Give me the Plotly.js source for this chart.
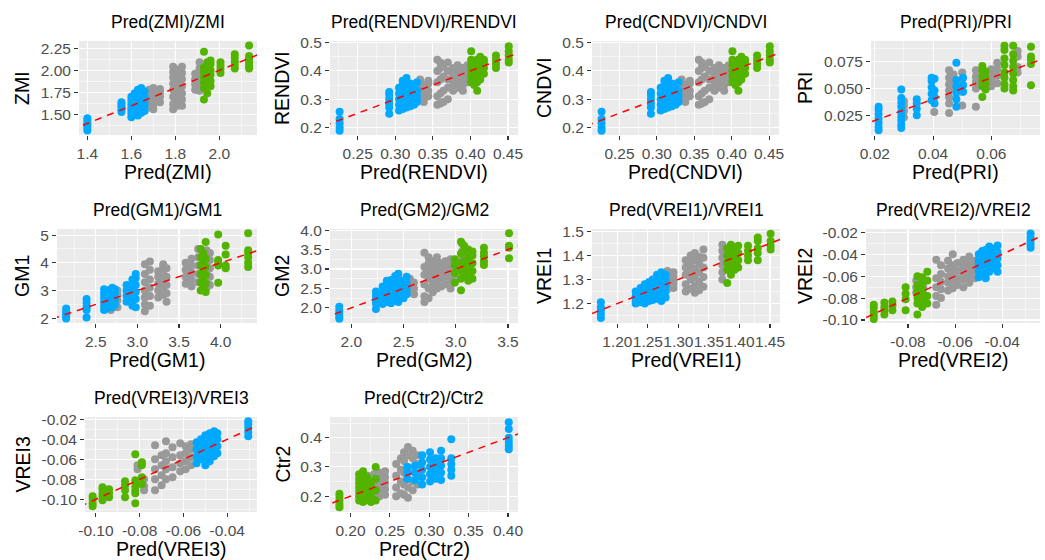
<!DOCTYPE html>
<html>
<head>
<meta charset="utf-8">
<script src="https://cdn.plot.ly/plotly-3.0.1.min.js"></script>
<style>html,body{margin:0;padding:0;background:#fff;}#chart{width:1045px;height:560px;}</style>
</head>
<body>
<div id="chart"></div>
<script>
// ---------- DATA: clusters as [predicted x, [observed y values]] ----------
const zmiBlue = [[1.400,[1.32,1.35,1.38,1.40,1.43,1.46]],[1.555,[1.53,1.56,1.59,1.62,1.64]],[1.600,[1.47,1.51,1.55,1.58,1.62,1.66,1.70]],[1.615,[1.50,1.56,1.63,1.69,1.74]],[1.630,[1.49,1.53,1.58,1.64,1.68,1.73,1.78]],[1.645,[1.52,1.57,1.61,1.66,1.72,1.77,1.80]],[1.660,[1.54,1.60,1.65,1.70,1.76]]];
const zmiGrey = [[1.680,[1.58,1.63,1.68,1.74,1.78]],[1.700,[1.56,1.61,1.66,1.71,1.76,1.80]],[1.730,[1.64,1.70,1.75,1.79]],[1.790,[1.56,1.62,1.70,1.78,1.85,1.92,1.98,2.04]],[1.810,[1.60,1.68,1.75,1.83,1.88,1.95,2.01]],[1.830,[1.60,1.67,1.74,1.82,1.90,1.97,2.04]],[1.890,[1.78,1.84,1.90,1.96]],[1.910,[1.77,1.82,1.88,1.95,2.02,2.09]]];
const zmiGreen = [[1.930,[1.67,1.80,1.86,1.92,1.98,2.03,2.21]],[1.945,[1.74,1.84,1.90,1.96,2.03,2.09]],[1.960,[1.82,1.88,1.95,2.00,2.07,2.11]],[2.005,[1.97,2.01,2.05,2.09]],[2.070,[2.02,2.06,2.10,2.14,2.18]],[2.135,[2.02,2.05,2.09,2.13,2.16,2.28]]];

const rendviBlue = [[0.226,[0.188,0.200,0.215,0.230,0.255]],[0.292,[0.248,0.270,0.285,0.300,0.315,0.325]],[0.305,[0.260,0.280,0.300,0.320,0.340]],[0.310,[0.265,0.290,0.310,0.330,0.350,0.365]],[0.315,[0.270,0.285,0.300,0.320,0.340,0.360,0.375]],[0.320,[0.275,0.295,0.315,0.335,0.355]],[0.325,[0.280,0.300,0.320,0.340]],[0.329,[0.290,0.310,0.330,0.360]]];
const rendviGrey = [[0.333,[0.300,0.320,0.340,0.360,0.370]],[0.338,[0.290,0.310,0.330,0.350]],[0.344,[0.310,0.330,0.355,0.365]],[0.356,[0.280,0.310,0.360,0.400,0.440]],[0.360,[0.285,0.320,0.370,0.410,0.430]],[0.364,[0.290,0.330,0.380,0.420]],[0.370,[0.300,0.340,0.370,0.400,0.430]],[0.377,[0.330,0.350,0.370,0.390,0.410]],[0.383,[0.340,0.360,0.380,0.400,0.420]],[0.390,[0.330,0.350,0.370,0.390,0.410]],[0.396,[0.360,0.380,0.400,0.420]]];
const rendviGreen = [[0.401,[0.360,0.380,0.400,0.420,0.440,0.470]],[0.405,[0.350,0.370,0.390,0.410,0.430]],[0.409,[0.330,0.360,0.380,0.400,0.420,0.440]],[0.413,[0.370,0.390,0.410,0.430,0.450]],[0.418,[0.390,0.410,0.430,0.440]],[0.434,[0.410,0.425,0.440,0.455]],[0.451,[0.430,0.440,0.455,0.470,0.487]]];

const cndviBlue = [[0.226,[0.188,0.200,0.215,0.230,0.255]],[0.292,[0.248,0.270,0.285,0.300,0.315,0.325]],[0.305,[0.260,0.280,0.300,0.320,0.340]],[0.310,[0.265,0.290,0.310,0.330,0.350,0.365]],[0.315,[0.270,0.285,0.300,0.320,0.340,0.360,0.375]],[0.320,[0.275,0.295,0.315,0.335,0.355]],[0.325,[0.280,0.300,0.320,0.340]],[0.329,[0.290,0.310,0.330,0.360]]];
const cndviGrey = [[0.333,[0.300,0.320,0.340,0.360,0.370]],[0.338,[0.290,0.310,0.330,0.350]],[0.344,[0.310,0.330,0.355,0.365]],[0.356,[0.280,0.310,0.360,0.400,0.440]],[0.360,[0.285,0.320,0.370,0.410,0.430]],[0.364,[0.290,0.330,0.380,0.420]],[0.370,[0.300,0.340,0.370,0.400,0.430]],[0.377,[0.330,0.350,0.370,0.390,0.410]],[0.383,[0.340,0.360,0.380,0.400,0.420]],[0.390,[0.330,0.350,0.370,0.390,0.410]],[0.396,[0.360,0.380,0.400,0.420]]];
const cndviGreen = [[0.401,[0.360,0.380,0.400,0.420,0.440,0.470]],[0.405,[0.350,0.370,0.390,0.410,0.430]],[0.409,[0.330,0.360,0.380,0.400,0.420,0.440]],[0.413,[0.370,0.390,0.410,0.430,0.450]],[0.418,[0.390,0.410,0.430,0.440]],[0.434,[0.410,0.425,0.440,0.455]],[0.451,[0.430,0.440,0.455,0.470,0.487]]];

const priBlue = [[0.0213,[0.011,0.014,0.018,0.022,0.026,0.030,0.033]],[0.0291,[0.013,0.016,0.020,0.024,0.028,0.033,0.037,0.041,0.049]],[0.0344,[0.025,0.031,0.036,0.040]],[0.0395,[0.039,0.045,0.051,0.057,0.060]],[0.0405,[0.036,0.042,0.048,0.059]],[0.0480,[0.033,0.040,0.046,0.052,0.058,0.074]],[0.0503,[0.047,0.053,0.060]]];
const priGrey = [[0.0300,[0.023,0.029,0.034,0.038]],[0.0404,[0.028]],[0.0455,[0.027,0.036,0.042,0.048,0.054,0.060,0.067]],[0.0470,[0.050,0.055,0.063]],[0.0500,[0.034,0.047,0.055,0.065]],[0.0547,[0.033,0.050,0.056,0.061,0.067]],[0.0600,[0.052,0.058,0.063,0.068]],[0.0620,[0.055,0.062,0.068,0.074]],[0.0690,[0.065,0.070,0.080,0.085]]];
const priGreen = [[0.0569,[0.042,0.052,0.057,0.062,0.067,0.071]],[0.0580,[0.049,0.055,0.060,0.066]],[0.0645,[0.050,0.054,0.060,0.065,0.072,0.078,0.086,0.090]],[0.0675,[0.048,0.052,0.058,0.064,0.070,0.076,0.082,0.090]],[0.0736,[0.053,0.073,0.077,0.080,0.089]]];

const gm1Blue = [[2.145,[1.99,2.07,2.15,2.25,2.35]],[2.390,[2.03,2.30,2.40,2.55,2.70]],[2.600,[2.30,2.45,2.60,2.75,2.90,3.05]],[2.640,[2.35,2.55,2.70,2.85,3.00]],[2.700,[2.40,2.60,2.80,2.95,3.10]],[2.730,[2.50,2.70,2.90,3.05]],[2.870,[2.60,2.80,3.00,3.20]],[2.940,[2.45,2.65,2.85,3.05,3.25,3.40]],[2.980,[2.40,2.70,2.95,3.20,3.45,3.60]]];
const gm1Grey = [[2.680,[2.30,2.50,2.70,2.90,3.05]],[2.760,[2.40,2.65,2.85,3.00]],[3.090,[2.25,2.50,2.75,3.00,3.30,3.60,3.95]],[3.150,[2.45,2.80,3.10,3.40,3.75,4.05]],[3.250,[2.75,3.00,3.25,3.50,3.70]],[3.310,[2.85,3.10,3.35,3.60,3.85,3.95]],[3.350,[2.60,2.90,3.20,3.50,3.80]],[3.580,[3.25,3.50,3.75,4.00]],[3.650,[3.15,3.40,3.65,3.90,4.15]],[3.730,[3.30,3.60,3.90,4.20,4.50]],[3.830,[3.10,3.40,3.70,4.00,4.30,4.45]],[3.870,[3.20,3.50,3.80,4.10,4.35]]];
const gm1Green = [[3.760,[3.00,3.30,3.60,3.90,4.20,4.50]],[3.790,[3.20,3.45,3.75,4.05,4.35]],[3.820,[2.95,3.25,3.55,3.85,4.15,4.75]],[3.970,[3.28,3.90,4.00,4.10,5.02]],[4.060,[3.80,3.90,4.30,4.62]],[4.330,[3.85,4.00,4.20,4.35,4.45,5.07]]];

const gm2Blue = [[1.885,[1.72,1.78,1.86,1.94,2.03]],[2.236,[1.97,2.12,2.22,2.32,2.42]],[2.300,[2.10,2.25,2.40,2.55]],[2.340,[2.15,2.30,2.45,2.60,2.70]],[2.380,[2.12,2.28,2.42,2.56,2.72]],[2.420,[2.20,2.35,2.50,2.65,2.82]],[2.450,[2.15,2.30,2.45,2.60,2.75,2.88]],[2.500,[2.25,2.40,2.55,2.70]],[2.530,[2.35,2.50,2.65,2.80]]];
const gm2Grey = [[2.490,[2.30,2.45,2.60]],[2.560,[2.40,2.55,2.70,2.75]],[2.600,[2.35,2.50,2.65]],[2.700,[2.15,2.30,2.60,2.85,3.05,3.42]],[2.740,[2.25,2.50,2.75,2.95,3.15,3.30]],[2.780,[2.40,2.60,2.80,3.00,3.20]],[2.820,[2.50,2.70,2.90,3.10,3.30]],[2.860,[2.55,2.75,2.95,3.15]],[2.900,[2.60,2.80,3.00,3.20]],[2.950,[2.50,2.70,2.90,3.10,3.25]],[2.990,[2.65,2.85,3.05]],[3.060,[3.25,3.45,3.65]]];
const gm2Green = [[2.990,[2.65,2.90,3.10,3.25]],[3.050,[2.45,2.75,2.95,3.15,3.40,3.70]],[3.080,[2.80,3.00,3.20,3.45,3.60]],[3.120,[2.70,2.90,3.10,3.30,3.50]],[3.160,[2.75,2.95,3.15,3.35,3.45]],[3.270,[3.10,3.20,3.32,3.42,3.55]],[3.510,[3.28,3.55,3.60,3.92]]];

const vrei1Blue = [[1.173,[1.140,1.155,1.170,1.185,1.205]],[1.230,[1.200,1.215,1.230,1.250]],[1.238,[1.205,1.225,1.245,1.265]],[1.245,[1.200,1.220,1.240,1.260,1.280]],[1.252,[1.210,1.230,1.250,1.270,1.290]],[1.258,[1.215,1.240,1.260,1.280,1.300]],[1.265,[1.220,1.245,1.270,1.290,1.320]],[1.272,[1.210,1.235,1.260,1.285,1.310,1.330]],[1.279,[1.225,1.250,1.275,1.300,1.320]]];
const vrei1Grey = [[1.282,[1.260,1.280,1.300,1.320,1.335]],[1.292,[1.265,1.285,1.310,1.330]],[1.312,[1.250,1.280,1.320,1.350,1.380]],[1.320,[1.260,1.300,1.340,1.370,1.400]],[1.327,[1.245,1.275,1.310,1.345,1.380,1.410]],[1.334,[1.255,1.290,1.330,1.365,1.395]],[1.341,[1.270,1.310,1.350,1.390,1.425]],[1.372,[1.300,1.330,1.360,1.390,1.420,1.445]]];
const vrei1Green = [[1.380,[1.285,1.340,1.370,1.400,1.430]],[1.386,[1.320,1.360,1.390,1.420,1.445]],[1.392,[1.340,1.370,1.400,1.430]],[1.398,[1.350,1.380,1.410,1.440]],[1.414,[1.380,1.400,1.420,1.440]],[1.430,[1.380,1.410,1.430,1.460,1.475]],[1.451,[1.425,1.440,1.460,1.490]]];

const vrei2Green = [[-0.0945,[-0.099,-0.096,-0.093,-0.089,-0.086]],[-0.0900,[-0.095,-0.091,-0.088,-0.084]],[-0.0866,[-0.091,-0.087,-0.083]],[-0.0810,[-0.091,-0.081,-0.076,-0.070]],[-0.0760,[-0.095,-0.085,-0.080,-0.074,-0.068,-0.060]],[-0.0740,[-0.088,-0.083,-0.078,-0.072,-0.066,-0.061]],[-0.0718,[-0.085,-0.078,-0.064,-0.056]]];
const vrei2Grey = [[-0.0765,[-0.075,-0.070,-0.064]],[-0.0735,[-0.082,-0.076,-0.070,-0.065]],[-0.0680,[-0.086,-0.078,-0.070,-0.062,-0.045]],[-0.0660,[-0.080,-0.072,-0.065,-0.058,-0.050]],[-0.0630,[-0.073,-0.066,-0.060,-0.053,-0.046]],[-0.0610,[-0.071,-0.064,-0.057,-0.050,-0.040]],[-0.0590,[-0.068,-0.062,-0.055,-0.048]],[-0.0565,[-0.070,-0.063,-0.057,-0.051,-0.045]],[-0.0540,[-0.066,-0.060,-0.054,-0.048,-0.042]],[-0.0515,[-0.062,-0.057,-0.051,-0.046]]];
const vrei2Blue = [[-0.0500,[-0.061,-0.055,-0.050,-0.045,-0.040]],[-0.0485,[-0.058,-0.052,-0.047,-0.042,-0.037]],[-0.0470,[-0.062,-0.054,-0.048,-0.043,-0.036]],[-0.0455,[-0.056,-0.050,-0.044,-0.038,-0.033]],[-0.0440,[-0.053,-0.047,-0.041,-0.035]],[-0.0420,[-0.056,-0.050,-0.044,-0.038,-0.032]],[-0.0280,[-0.034,-0.031,-0.028,-0.025,-0.021]]];

const vrei3Green = [[-0.1015,[-0.107,-0.104,-0.100,-0.097]],[-0.0970,[-0.101,-0.097,-0.094,-0.090,-0.088]],[-0.0940,[-0.098,-0.094,-0.090]],[-0.0867,[-0.098,-0.091,-0.086,-0.082]],[-0.0820,[-0.104,-0.094,-0.091,-0.087,-0.081,-0.055]],[-0.0790,[-0.085,-0.078,-0.066,-0.063]]];
const vrei3Grey = [[-0.0810,[-0.070,-0.066]],[-0.0780,[-0.091,-0.087,-0.080]],[-0.0730,[-0.091,-0.080,-0.070,-0.060,-0.046]],[-0.0700,[-0.086,-0.076,-0.066,-0.056]],[-0.0680,[-0.080,-0.070,-0.062,-0.054,-0.042]],[-0.0650,[-0.078,-0.068,-0.058,-0.048]],[-0.0615,[-0.072,-0.064,-0.056,-0.044]],[-0.0590,[-0.070,-0.062,-0.054,-0.047]],[-0.0565,[-0.066,-0.058,-0.050,-0.045]]];
const vrei3Blue = [[-0.0540,[-0.064,-0.057,-0.050,-0.043]],[-0.0520,[-0.060,-0.053,-0.047,-0.040]],[-0.0500,[-0.066,-0.058,-0.051,-0.044,-0.036]],[-0.0480,[-0.062,-0.055,-0.048,-0.041,-0.034]],[-0.0460,[-0.057,-0.050,-0.043,-0.036,-0.032]],[-0.0445,[-0.054,-0.047,-0.040,-0.034]],[-0.0304,[-0.037,-0.033,-0.029,-0.025,-0.022]]];

const ctr2Green = [[0.186,[0.162,0.172,0.185,0.198,0.208]],[0.211,[0.185,0.200,0.215,0.230,0.245,0.260,0.275]],[0.216,[0.180,0.195,0.210,0.225,0.240,0.255,0.285]],[0.221,[0.188,0.205,0.220,0.235,0.250,0.265]],[0.226,[0.180,0.200,0.215,0.230,0.245]],[0.232,[0.185,0.220,0.260,0.300]]];
const ctr2Grey = [[0.215,[0.210,0.225,0.245,0.265]],[0.222,[0.205,0.230,0.250,0.270]],[0.230,[0.210,0.235,0.255,0.275]],[0.237,[0.200,0.220,0.240,0.260,0.280]],[0.244,[0.205,0.225,0.245,0.265,0.285]],[0.258,[0.200,0.230,0.270,0.310]],[0.264,[0.210,0.250,0.290,0.330]],[0.268,[0.205,0.240,0.280,0.320,0.350]],[0.273,[0.195,0.230,0.260,0.300,0.340,0.368]],[0.279,[0.220,0.250,0.290,0.330,0.355]],[0.285,[0.240,0.270,0.310,0.340]]];
const ctr2Blue = [[0.272,[0.260,0.280,0.300]],[0.282,[0.255,0.280,0.305]],[0.291,[0.240,0.265,0.290,0.315,0.340]],[0.301,[0.250,0.275,0.300,0.325,0.350]],[0.308,[0.260,0.285,0.310,0.330]],[0.315,[0.255,0.280,0.305,0.330,0.355]],[0.328,[0.270,0.290,0.310,0.330,0.395]],[0.401,[0.360,0.372,0.385,0.400,0.430,0.453]]];

// ---------- Tick values and labels ----------
const zmiXTicks = [1.4,1.6,1.8,2.0], zmiXLabels = ['1.4','1.6','1.8','2.0'];
const zmiYTicks = [1.5,1.75,2.0,2.25], zmiYLabels = ['1.50','1.75','2.00','2.25'];
const ndviXTicks = [0.25,0.30,0.35,0.40,0.45], ndviXLabels = ['0.25','0.30','0.35','0.40','0.45'];
const ndviYTicks = [0.2,0.3,0.4,0.5], ndviYLabels = ['0.2','0.3','0.4','0.5'];
const priXTicks = [0.02,0.04,0.06], priXLabels = ['0.02','0.04','0.06'];
const priYTicks = [0.025,0.05,0.075], priYLabels = ['0.025','0.050','0.075'];
const gm1XTicks = [2.5,3.0,3.5,4.0], gm1XLabels = ['2.5','3.0','3.5','4.0'];
const gm1YTicks = [2,3,4,5], gm1YLabels = ['2','3','4','5'];
const gm2XTicks = [2.0,2.5,3.0,3.5], gm2XLabels = ['2.0','2.5','3.0','3.5'];
const gm2YTicks = [2.0,2.5,3.0,3.5,4.0], gm2YLabels = ['2.0','2.5','3.0','3.5','4.0'];
const vrei1XTicks = [1.20,1.25,1.30,1.35,1.40,1.45], vrei1XLabels = ['1.20','1.25','1.30','1.35','1.40','1.45'];
const vrei1YTicks = [1.2,1.3,1.4,1.5], vrei1YLabels = ['1.2','1.3','1.4','1.5'];
const vrei2XTicks = [-0.08,-0.06,-0.04], vrei2XLabels = ['-0.08','-0.06','-0.04'];
const vreiYTicks = [-0.10,-0.08,-0.06,-0.04,-0.02], vreiYLabels = ['-0.10','-0.08','-0.06','-0.04','-0.02'];
const vrei3XTicks = [-0.10,-0.08,-0.06,-0.04], vrei3XLabels = ['-0.10','-0.08','-0.06','-0.04'];
const ctr2XTicks = [0.20,0.25,0.30,0.35,0.40], ctr2XLabels = ['0.20','0.25','0.30','0.35','0.40'];
const ctr2YTicks = [0.2,0.3,0.4], ctr2YLabels = ['0.2','0.3','0.4'];

const names = ['ZMI','RENDVI','CNDVI','PRI','GM1','GM2','VREI1','VREI2','VREI3','Ctr2'];

// ---------- Layout configuration (pixel boxes: left, right, top, bottom) ----------
const W = 1045, H = 560;
const panels = [
  {g:[zmiGrey,zmiBlue,zmiGreen], xt:zmiXTicks, xl:zmiXLabels, yt:zmiYTicks, yl:zmiYLabels, xr:[1.362,2.171], yr:[1.27,2.33], box:[79,257,41,135], ytx:22},
  {g:[rendviGrey,rendviBlue,rendviGreen], xt:ndviXTicks, xl:ndviXLabels, yt:ndviYTicks, yl:ndviYLabels, xr:[0.2132,0.4633], yr:[0.173,0.506], box:[330,518,41,135], ytx:282},
  {g:[cndviGrey,cndviBlue,cndviGreen], xt:ndviXTicks, xl:ndviXLabels, yt:ndviYTicks, yl:ndviYLabels, xr:[0.2132,0.4633], yr:[0.173,0.506], box:[592,779,41,135], ytx:544},
  {g:[priGrey,priBlue,priGreen], xt:priXTicks, xl:priXLabels, yt:priYTicks, yl:priYLabels, xr:[0.0187,0.0767], yr:[0.0065,0.0944], box:[871,1040,41,135], ytx:805},
  {g:[gm1Grey,gm1Blue,gm1Green], xt:gm1XTicks, xl:gm1XLabels, yt:gm1YTicks, yl:gm1YLabels, xr:[2.035,4.436], yr:[1.83,5.22], box:[57,257,229,323], ytx:22},
  {g:[gm2Grey,gm2Blue,gm2Green], xt:gm2XTicks, xl:gm2XLabels, yt:gm2YTicks, yl:gm2YLabels, xr:[1.796,3.596], yr:[1.61,4.03], box:[330,518,229,323], ytx:282},
  {g:[vrei1Grey,vrei1Blue,vrei1Green], xt:vrei1XTicks, xl:vrei1XLabels, yt:vrei1YTicks, yl:vrei1YLabels, xr:[1.1585,1.4664], yr:[1.119,1.51], box:[592,780,229,323], ytx:544},
  {g:[vrei2Grey,vrei2Blue,vrei2Green], xt:vrei2XTicks, xl:vrei2XLabels, yt:vreiYTicks, yl:vreiYLabels, xr:[-0.0978,-0.024], yr:[-0.1027,-0.017], box:[866,1040,229,323], ytx:805},
  {g:[vrei3Grey,vrei3Blue,vrei3Green], xt:vrei3XTicks, xl:vrei3XLabels, yt:vreiYTicks, yl:vreiYLabels, xr:[-0.105,-0.0264], yr:[-0.1127,-0.0177], box:[85,257,417,512], ytx:22},
  {g:[ctr2Grey,ctr2Blue,ctr2Green], xt:ctr2XTicks, xl:ctr2XLabels, yt:ctr2YTicks, yl:ctr2YLabels, xr:[0.174,0.4127], yr:[0.146,0.4706], box:[330,518,417,512], ytx:282}
];
const colors = ['#999999','#00A9FF','#53B400'];
const FONT = 'Liberation Sans, Arial, Helvetica, sans-serif';

function flatten(clusters){
  const xs=[], ys=[];
  clusters.forEach(c => c[1].forEach(y => { xs.push(c[0]); ys.push(y); }));
  return {xs, ys};
}
function minorVals(t){
  const s = t[1]-t[0];
  return [t[0]-s/2].concat(t.map(v => v + s/2));
}

const traces = [];
const layout = {
  width: W, height: H,
  margin: {l:0, r:0, t:0, b:0},
  paper_bgcolor: '#FFFFFF',
  plot_bgcolor: '#EBEBEB',
  showlegend: false,
  font: {family: FONT, color: '#000000'},
  annotations: []
};

panels.forEach((p, i) => {
  const k = i + 1;
  const xa = k === 1 ? 'x' : 'x' + k;
  const ya = k === 1 ? 'y' : 'y' + k;
  const [l, r, t, b] = p.box;
  p.g.forEach((grp, gi) => {
    const d = flatten(grp);
    traces.push({type:'scatter', mode:'markers', x:d.xs, y:d.ys, xaxis:xa, yaxis:ya,
      marker:{color:colors[gi], size:8, line:{width:0}}, hoverinfo:'skip', cliponaxis:false});
  });
  const lo = Math.min(p.xr[0], p.yr[0]), hi = Math.max(p.xr[1], p.yr[1]);
  traces.push({type:'scatter', mode:'lines', x:[lo, hi], y:[lo, hi], xaxis:xa, yaxis:ya,
    line:{color:'#FF0000', width:1.5, dash:'7px,6px'}, hoverinfo:'skip'});

  const common = {
    tickmode:'array', ticks:'outside', ticklen:4, tickwidth:1.1, tickcolor:'#333333',
    tickfont:{family:FONT, size:15.5, color:'#4D4D4D'}, showgrid:true, gridcolor:'#FFFFFF', gridwidth:1.1,
    zeroline:false, showline:false, fixedrange:true, tickangle:0
  };
  layout[k === 1 ? 'xaxis' : 'xaxis' + k] = Object.assign({}, common, {
    domain:[l/W, r/W], range:p.xr, anchor:ya, tickvals:p.xt, ticktext:p.xl,
    minor:{tickvals:minorVals(p.xt), showgrid:true, gridcolor:'#FFFFFF', gridwidth:0.55, ticks:''}
  });
  layout[k === 1 ? 'yaxis' : 'yaxis' + k] = Object.assign({}, common, {
    domain:[1 - b/H, 1 - t/H], range:p.yr, anchor:xa, tickvals:p.yt, ticktext:p.yl,
    minor:{tickvals:minorVals(p.yt), showgrid:true, gridcolor:'#FFFFFF', gridwidth:0.55, ticks:''}
  });
  const n = names[i];
  layout.annotations.push({text:'Pred(' + n + ')/' + n, xref:'paper', yref:'paper', x:(l+r)/2/W, y:1-(t-19)/H,
    xanchor:'center', yanchor:'middle', showarrow:false, font:{family:FONT, size:17.5, color:'#000000'}});
  layout.annotations.push({text:'Pred(' + n + ')', xref:'paper', yref:'paper', x:(l+r)/2/W, y:1-(b+37)/H,
    xanchor:'center', yanchor:'middle', showarrow:false, font:{family:FONT, size:19.5, color:'#000000'}});
  layout.annotations.push({text:n, xref:'paper', yref:'paper', x:p.ytx/W, y:1-((t+b)/2)/H, textangle:-90,
    xanchor:'center', yanchor:'middle', showarrow:false, font:{family:FONT, size:19.5, color:'#000000'}});
});

Plotly.newPlot('chart', traces, layout, {staticPlot:true, displayModeBar:false});
</script>
</body>
</html>
